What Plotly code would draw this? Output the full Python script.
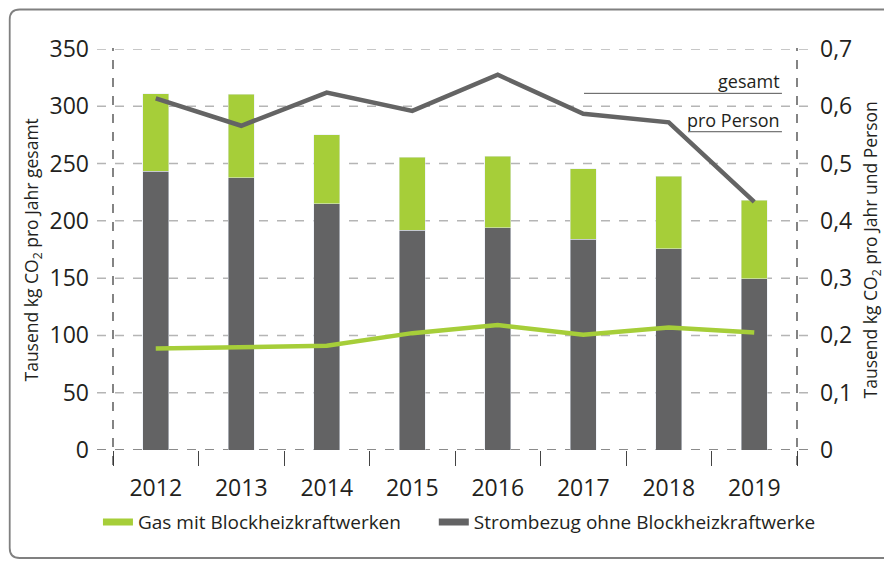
import plotly.graph_objects as go

years = ["2012", "2013", "2014", "2015", "2016", "2017", "2018", "2019"]

# Tausend kg CO2 pro Jahr gesamt (gestapelte Balken)
strom = [243.5, 237.5, 215, 192, 194, 184, 175.5, 149.5]
gas = [67.5, 73, 60, 63.7, 62.6, 61.3, 63.5, 68.5]

# Tausend kg CO2 pro Jahr und Person (Linien, rechte Achse)
pro_person_gesamt = [0.614, 0.566, 0.624, 0.592, 0.655, 0.587, 0.572, 0.433]
pro_person_gas = [0.177, 0.180, 0.182, 0.204, 0.218, 0.201, 0.214, 0.205]

left_ticks = [0, 50, 100, 150, 200, 250, 300, 350]
right_ticks = [0, 0.1, 0.2, 0.3, 0.4, 0.5, 0.6, 0.7]
right_labels = ["0", "0,1", "0,2", "0,3", "0,4", "0,5", "0,6", "0,7"]

GREEN = "#a6ce39"
DARK = "#636364"
LINE_GREY = "#646464"
TEXT = "#231f20"
FONT = "Open Sans"

fig = go.Figure()

fig.add_trace(go.Bar(x=years, y=strom, marker_color=DARK, showlegend=False,
                     name="Strombezug ohne Blockheizkraftwerke"))
fig.add_trace(go.Bar(x=years, y=gas, marker_color=GREEN, showlegend=False,
                     name="Gas mit Blockheizkraftwerken"))
fig.add_trace(go.Scatter(x=years, y=pro_person_gesamt, yaxis="y2", mode="lines",
                         line=dict(color=LINE_GREY, width=4.5), showlegend=False))
fig.add_trace(go.Scatter(x=years, y=pro_person_gas, yaxis="y2", mode="lines",
                         line=dict(color=GREEN, width=4.5), showlegend=False))

# legend entries (flat swatches like the original)
fig.add_trace(go.Scatter(x=[years[0]], y=[None], mode="lines", name="Gas mit Blockheizkraftwerken",
                         line=dict(color=GREEN, width=7), legend="legend"))
fig.add_trace(go.Scatter(x=[years[0]], y=[None], mode="lines", name="Strombezug ohne Blockheizkraftwerke",
                         line=dict(color=DARK, width=7), legend="legend2"))

shapes = []
# horizontal dashed grid lines reaching a bit past both axes
for v in left_ticks:
    shapes.append(dict(type="line", xref="paper", yref="y", x0=-0.0234, x1=1.019, y0=v, y1=v,
                       line=dict(color="#666666" if v == 0 else "#b5b5b5", width=1.5, dash="dash"),
                       layer="below"))
# vertical dashed axis lines
for xp in [0, 1]:
    shapes.append(dict(type="line", xref="paper", yref="paper", x0=xp, x1=xp, y0=-0.0374, y1=1.0025,
                       line=dict(color="#333333", width=1.2, dash="dash")))

# leader lines for "gesamt" and "pro Person"
total_2017 = strom[5] + gas[5]
shapes.append(dict(type="line", xref="x", yref="y", x0="2017", x1="2017", y0=total_2017, y1=311.3,
                   line=dict(color="#555555", width=1)))
shapes.append(dict(type="line", xref="paper", yref="y", x0=0.6886, x1=0.978, y0=311.3, y1=311.3,
                   line=dict(color="#555555", width=1)))
shapes.append(dict(type="line", xref="paper", yref="y", x0=0.8406, x1=0.978, y0=277.8, y1=277.8,
                   line=dict(color="#555555", width=1)))

# rounded frame
x0, x1, yb, yt = -0.151, 1.16, -0.2693, 1.0985
rx, ry = 0.0146, 0.025
shapes.append(dict(type="path", xref="paper", yref="paper",
                   path=(f"M {x0+rx},{yt} L {x1},{yt} L {x1},{yb} L {x0+rx},{yb} "
                         f"Q {x0},{yb} {x0},{yb+ry} L {x0},{yt-ry} Q {x0},{yt} {x0+rx},{yt}"),
                   line=dict(color="#808080", width=1.8)))

annotations = [
    dict(text="gesamt", xref="paper", yref="y", x=0.978, y=322.3, xanchor="right", yanchor="middle",
         showarrow=False, font=dict(family=FONT, size=18, color=TEXT)),
    dict(text="pro Person", xref="paper", yref="y", x=0.978, y=288, xanchor="right", yanchor="middle",
         showarrow=False, font=dict(family=FONT, size=18, color=TEXT)),
    dict(text="Tausend kg CO<sub>2</sub> pro Jahr gesamt", xref="paper", yref="paper", x=-0.117, y=0.5,
         xanchor="center", yanchor="middle", textangle=-90, showarrow=False,
         font=dict(family=FONT, size=17.5, color=TEXT)),
    dict(text="Tausend kg CO<sub>2</sub> pro Jahr und Person", xref="paper", yref="paper", x=1.1096, y=0.5,
         xanchor="center", yanchor="middle", textangle=-90, showarrow=False,
         font=dict(family=FONT, size=17.5, color=TEXT)),
]

legend_style = dict(orientation="h", xanchor="left", y=-0.18, yanchor="middle",
                    font=dict(family=FONT, size=19, color=TEXT), bgcolor="rgba(0,0,0,0)")

fig.update_layout(
    width=884, height=553,
    margin=dict(l=105, r=95, t=41, b=111),
    paper_bgcolor="white", plot_bgcolor="white",
    barmode="stack", bargap=0.696,
    separators=",.",
    font=dict(family=FONT, color=TEXT),
    shapes=shapes, annotations=annotations,
    legend=dict(x=-0.022, **legend_style),
    legend2=dict(x=0.469, **legend_style),
    xaxis=dict(type="category", range=[-0.5, 7.5], showgrid=False, showline=False, zeroline=False,
               ticks="outside", tickson="boundaries", ticklen=15, tickcolor="#444444", tickwidth=1.2,
               tickfont=dict(family=FONT, size=23, color=TEXT), ticklabelstandoff=22, tickangle=0),
    yaxis=dict(range=[0, 350], tickvals=left_ticks, showgrid=False, zeroline=False, showline=False,
               ticklabelstandoff=23, tickfont=dict(family=FONT, size=23, color=TEXT)),
    yaxis2=dict(range=[0, 0.7], overlaying="y", side="right", tickvals=right_ticks, ticktext=right_labels,
                showgrid=False, zeroline=False, showline=False, ticklabelstandoff=22,
                tickfont=dict(family=FONT, size=23, color=TEXT)),
)

fig.write_html("out.html")
